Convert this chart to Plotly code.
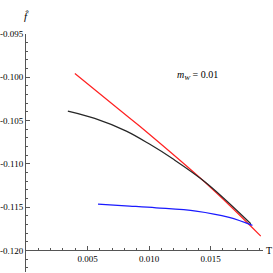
import plotly.graph_objects as go

# Data
T_red = [0.00397, 0.00761, 0.00922, 0.01502, 0.01907]
f_red = [-0.09956, -0.10378, -0.10564, -0.11276, -0.11835]

T_black = [0.00340, 0.00558, 0.00815, 0.01003, 0.01192, 0.01462, 0.01826]
f_black = [-0.10391, -0.10475, -0.10622, -0.10772, -0.10942, -0.11218, -0.11692]

T_blue = [0.00585, 0.00841, 0.01057, 0.01381, 0.01650, 0.01839]
f_blue = [-0.11466, -0.11488, -0.11508, -0.11546, -0.11619, -0.11711]

x_tickvals = [0.005, 0.010, 0.015]
x_ticktext = ["0.005", "0.010", "0.015"]
y_tickvals = [-0.095, -0.100, -0.105, -0.110, -0.115, -0.120]
y_ticktext = ["-0.095", "-0.100", "-0.105", "-0.110", "-0.115", "-0.120"]

font = "Liberation Serif"
axcol = "#555555"

fig = go.Figure()
fig.add_trace(go.Scatter(x=T_red, y=f_red, mode="lines",
                         line=dict(color="#ff2020", width=1.2, shape="spline"), showlegend=False))
fig.add_trace(go.Scatter(x=T_black, y=f_black, mode="lines",
                         line=dict(color="#262626", width=1.2, shape="spline"), showlegend=False))
fig.add_trace(go.Scatter(x=T_blue, y=f_blue, mode="lines",
                         line=dict(color="#1a1aff", width=1.2, shape="spline"), showlegend=False))

xpos = (-0.120 + 0.1225) / 0.0275

fig.update_layout(
    width=273, height=273,
    margin=dict(l=26, r=10, t=34, b=1),
    paper_bgcolor="white", plot_bgcolor="white",
    font=dict(family=font, size=9, color="black"),
    xaxis=dict(range=[0, 0.01925], anchor="free", position=xpos,
               showgrid=False, zeroline=False, showline=True, linecolor=axcol, linewidth=1,
               ticks="inside", ticklen=4, tickcolor=axcol,
               tickfont=dict(family=font, size=9),
               tickvals=x_tickvals, ticktext=x_ticktext, automargin=False,
               minor=dict(dtick=0.001, tick0=0, ticks="inside", ticklen=2, tickcolor=axcol)),
    yaxis=dict(range=[-0.1225, -0.095],
               showgrid=False, zeroline=False, showline=True, linecolor=axcol, linewidth=1,
               ticks="inside", ticklen=4, tickcolor=axcol, ticklabelstandoff=0,
               tickfont=dict(family=font, size=9),
               tickvals=y_tickvals, ticktext=y_ticktext, automargin=False,
               minor=dict(dtick=0.001, tick0=-0.095, ticks="inside", ticklen=2, tickcolor=axcol)),
    annotations=[
        dict(text="T", xref="paper", x=1, xanchor="left", xshift=1,
             yref="y", y=-0.120, yanchor="middle", showarrow=False,
             font=dict(family=font, size=10)),
        dict(text="<i>f\u0302</i>", xref="paper", x=0, xanchor="center",
             yref="paper", y=1, yanchor="bottom", yshift=10, showarrow=False,
             font=dict(family=font, size=11)),
        dict(text="<i>m</i><sub><i>W</i></sub> = 0.01", xref="x", x=0.01392,
             yref="y", y=-0.09979, xanchor="center", yanchor="middle", showarrow=False,
             font=dict(family=font, size=10)),
    ],
)

fig.write_html("out.html", config={"displayModeBar": False},
               post_script="document.body.style.margin='0px';")
